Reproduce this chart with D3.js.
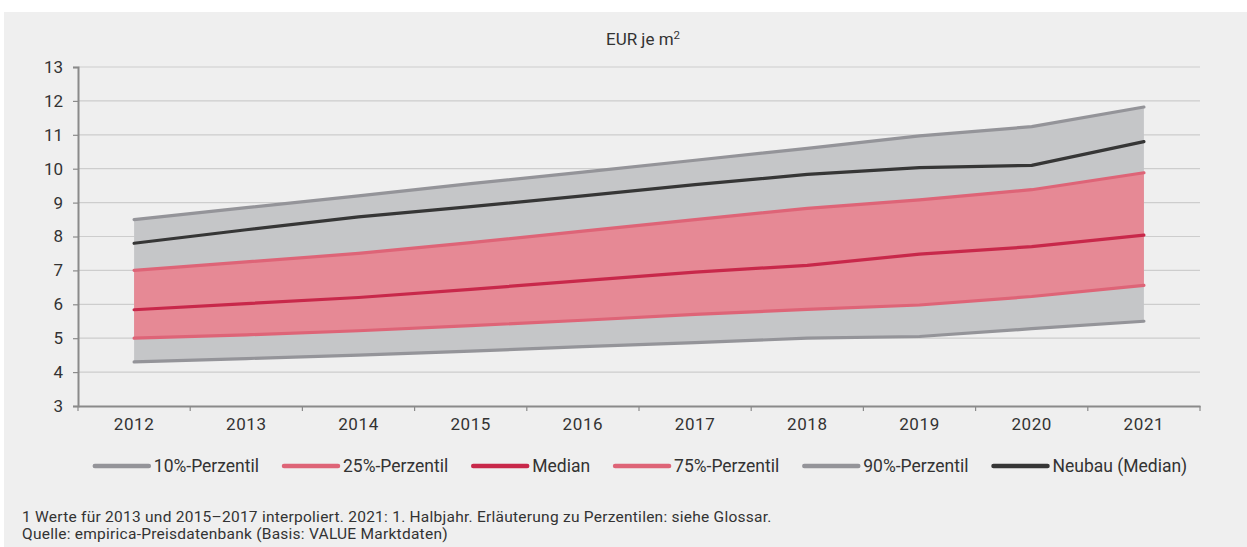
<!DOCTYPE html>
<html>
<head>
<meta charset="utf-8">
<script src="https://cdn.jsdelivr.net/npm/d3@7"></script>
<style>
  body { margin: 0; background: #fff; }
  svg text { font-family: Roboto, "Noto Sans", sans-serif; fill: #333; }
</style>
</head>
<body>
<svg id="chart" width="1247" height="547"></svg>
<script>
// years on the x axis
const years = [2012, 2013, 2014, 2015, 2016, 2017, 2018, 2019, 2020, 2021];

// EUR je m2
const p10 = [4.3, 4.4, 4.5, 4.62, 4.75, 4.87, 5.0, 5.05, 5.28, 5.5];
const p25 = [5.0, 5.1, 5.22, 5.37, 5.53, 5.7, 5.85, 5.98, 6.23, 6.56];
const median = [5.84, 6.02, 6.2, 6.44, 6.7, 6.95, 7.15, 7.48, 7.7, 8.04];
const p75 = [7.0, 7.25, 7.5, 7.82, 8.16, 8.5, 8.83, 9.08, 9.38, 9.88];
const p90 = [8.5, 8.85, 9.2, 9.56, 9.9, 10.25, 10.6, 10.97, 11.24, 11.82];
const neubau = [7.8, 8.2, 8.58, 8.88, 9.2, 9.53, 9.83, 10.03, 10.1, 10.8];

const yTicks = [3, 4, 5, 6, 7, 8, 9, 10, 11, 12, 13];

const legendItems = [
  { name: '10%-Perzentil', color: '#949499' },
  { name: '25%-Perzentil', color: '#de6477' },
  { name: 'Median', color: '#c8284a' },
  { name: '75%-Perzentil', color: '#de6477' },
  { name: '90%-Perzentil', color: '#949499' },
  { name: 'Neubau (Median)', color: '#363636' }
];

const footnotes = [
  '1 Werte für 2013 und 2015–2017 interpoliert. 2021: 1. Halbjahr. Erläuterung zu Perzentilen: siehe Glossar.',
  'Quelle: empirica-Preisdatenbank (Basis: VALUE Marktdaten)'
];

const width = 1247;
const height = 547;
const margin = { top: 67, bottom: 141, left: 78, right: 47 };

const svg = d3.select('#chart');

// grey panel behind everything
svg.append('rect')
  .attr('x', 4).attr('y', 12)
  .attr('width', width - 4).attr('height', height - 12)
  .attr('fill', '#efefef');

const x = d3.scaleBand()
  .domain(years)
  .range([margin.left, width - margin.right])
  .padding(0);

const y = d3.scaleLinear()
  .domain([3, 13])
  .range([height - margin.bottom, margin.top]);

const cx = (i) => x(years[i]) + x.bandwidth() / 2;

// gridlines
svg.append('g')
  .selectAll('line')
  .data(yTicks.slice(1))
  .join('line')
    .attr('x1', margin.left)
    .attr('x2', width - margin.right)
    .attr('y1', d => y(d))
    .attr('y2', d => y(d))
    .attr('stroke', '#cdcdcd')
    .attr('stroke-width', 1.2);

// bands
const band = (lo, hi) => d3.area()
  .x((d, i) => cx(i))
  .y0((d, i) => y(lo[i]))
  .y1((d, i) => y(hi[i]));

svg.append('path')
  .attr('d', band(p10, p90)(years))
  .attr('fill', '#c5c6c8');

svg.append('path')
  .attr('d', band(p25, p75)(years))
  .attr('fill', '#e68995');

const line = d3.line()
  .x((d, i) => cx(i))
  .y(d => y(d));

const series = [
  { values: p10, color: '#949499' },
  { values: p90, color: '#949499' },
  { values: p25, color: '#de6477' },
  { values: p75, color: '#de6477' },
  { values: median, color: '#c8284a' },
  { values: neubau, color: '#363636' }
];

svg.append('g')
  .selectAll('path')
  .data(series)
  .join('path')
    .attr('d', d => line(d.values))
    .attr('fill', 'none')
    .attr('stroke', d => d.color)
    .attr('stroke-width', 3.2)
    .attr('stroke-linecap', 'round')
    .attr('stroke-linejoin', 'round');

// y axis
const yAxis = svg.append('g')
  .attr('transform', `translate(${margin.left},0)`)
  .call(d3.axisLeft(y).tickValues(yTicks).tickSize(5).tickPadding(10));
yAxis.select('.domain').attr('stroke', '#8a8a8a').attr('stroke-width', 2);
yAxis.selectAll('.tick line').attr('stroke', '#8a8a8a').attr('stroke-width', 1.2);
yAxis.selectAll('text').attr('font-size', 17).attr('fill', '#333');

// x axis: labels at band centres, ticks on band edges
const xAxis = svg.append('g')
  .attr('transform', `translate(0,${height - margin.bottom})`)
  .call(d3.axisBottom(x).tickSize(0).tickPadding(12));
xAxis.select('.domain').attr('stroke', '#8a8a8a').attr('stroke-width', 2);
xAxis.selectAll('text').attr('font-size', 17).attr('letter-spacing', 0.6).attr('fill', '#333');
xAxis.append('g')
  .selectAll('line')
  .data(d3.range(years.length + 1))
  .join('line')
    .attr('x1', i => margin.left + i * x.step())
    .attr('x2', i => margin.left + i * x.step())
    .attr('y1', 0)
    .attr('y2', 5)
    .attr('stroke', '#8a8a8a')
    .attr('stroke-width', 1.2);

// title
const title = svg.append('text')
  .attr('x', (margin.left + width - margin.right) / 2 + 4)
  .attr('y', 45)
  .attr('text-anchor', 'middle')
  .attr('font-size', 17);
title.append('tspan').text('EUR je m');
title.append('tspan').attr('dy', -6).attr('font-size', 11.5).text('2');

// legend
const legend = svg.append('g');
let lx = 0;
legendItems.forEach(item => {
  const g = legend.append('g').attr('transform', `translate(${lx},0)`);
  g.append('line')
    .attr('x1', 0).attr('x2', 54)
    .attr('y1', 0).attr('y2', 0)
    .attr('stroke', item.color)
    .attr('stroke-width', 4.5)
    .attr('stroke-linecap', 'round');
  const t = g.append('text')
    .attr('x', 59)
    .attr('y', 6)
    .attr('font-size', 17.5)
    .text(item.name);
  lx += 59 + t.node().getComputedTextLength() + 25;
});
const legendW = lx - 25;
legend.attr('transform', `translate(${(margin.left + width - margin.right) / 2 + 2 - legendW / 2},466)`);

// footnotes
svg.append('g')
  .selectAll('text')
  .data(footnotes)
  .join('text')
    .attr('x', 22)
    .attr('y', (d, i) => 522 + i * 17)
    .attr('font-size', 15.5)
    .attr('letter-spacing', 0.25)
    .text(d => d);
</script>
</body>
</html>
